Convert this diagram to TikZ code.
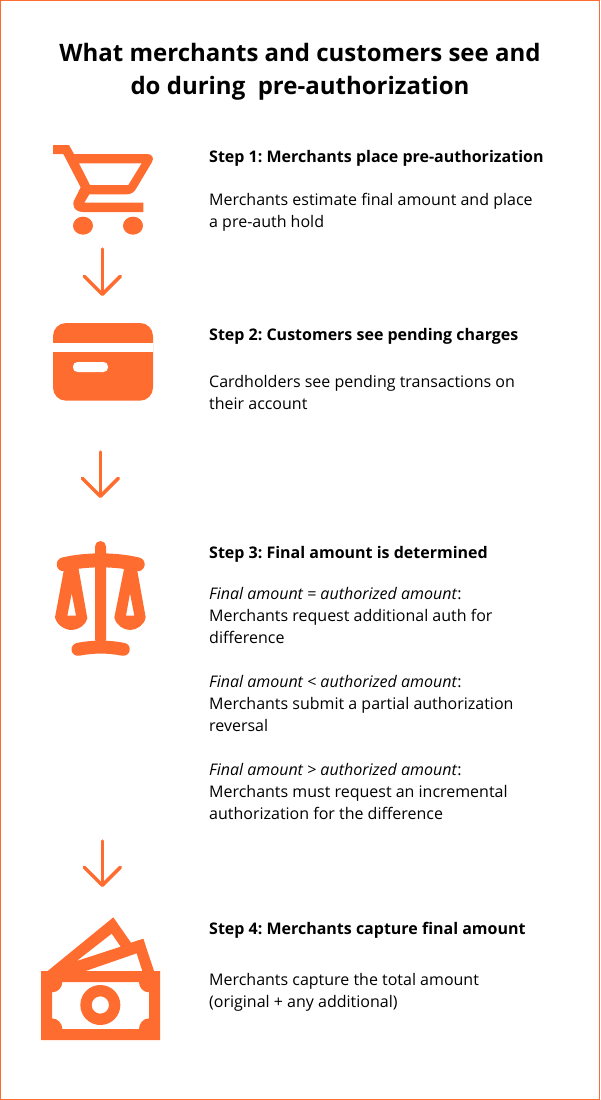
\documentclass[tikz,border=0pt]{standalone}
\usepackage{fontspec}
\setmainfont{Open Sans}
\usetikzlibrary{arrows.meta}
\definecolor{brand}{HTML}{FF6C2F}
\tikzset{
  titletext/.style={anchor=north,align=center,inner sep=0pt,font=\frenchspacing\fontsize{24}{33}\selectfont\bfseries,text=black},
  headtext/.style={anchor=north west,align=left,inner sep=0pt,font=\frenchspacing\fontsize{16}{22}\selectfont\bfseries,text=black},
  bodytext/.style={anchor=north west,align=left,inner sep=0pt,font=\frenchspacing\fontsize{16}{22}\selectfont,text=black},
  flowarrow/.style={draw=brand,line width=3.4pt,line cap=round,-{Straight Barb[length=18pt,width=36pt,round,line width=3.4pt]}},
  icon/.style={fill=brand,draw=none,even odd rule},
  iconcut/.style={fill=white,draw=none},
  zoomed/.style={x=0.33333pt,y=-0.33333pt}
}
\begin{document}
\begin{tikzpicture}[x=1pt,y=-1pt]
\useasboundingbox (0,0) rectangle (600,1100);
\draw[brand,line width=1pt] (0.5,0.5) rectangle (599.5,1099.5);

\node[titletext] (title) at (300,43) {What merchants and customers see and\\do during\ \ pre-authorization};

\node[headtext] (h1) at (209,150) {Step 1: Merchants place pre-authorization};
\node[bodytext] (b1) at (209,193) {Merchants estimate final amount and place\\a pre-auth hold};
\node[headtext] (h2) at (209,328) {Step 2: Customers see pending charges};
\node[bodytext] (b2) at (209,375) {Cardholders see pending transactions on\\their account};
\node[headtext] (h3) at (209,546) {Step 3: Final amount is determined};
\node[bodytext] (b3a) at (209,587) {\textit{Final amount = authorized amount}:\\Merchants request additional auth for\\difference};
\node[bodytext] (b3b) at (209,675) {\textit{Final amount < authorized amount}:\\Merchants submit a partial authorization\\reversal};
\node[bodytext] (b3c) at (209,763) {\textit{Final amount > authorized amount}:\\Merchants must request an incremental\\authorization for the difference};
\node[headtext] (h4) at (209,922) {Step 4: Merchants capture final amount};
\node[bodytext] (b4) at (209,973) {Merchants capture the total amount\\(original + any additional)};

% arrows
\coordinate (a1s) at (102.3,249);
\coordinate (a1e) at (102.3,296);
\coordinate (a2s) at (100.3,452);
\coordinate (a2e) at (100.3,498);
\coordinate (a3s) at (102.3,841);
\coordinate (a3e) at (102.3,887);
\draw[flowarrow] (a1s) -- (a1e);
\draw[flowarrow] (a2s) -- (a2e);
\draw[flowarrow] (a3s) -- (a3e);

% cart
\begin{scope}[shift={(30,130)},zoomed]
\fill[icon] (69,45) -- (117,45) -- (132,72) -- (352,72) .. controls (366,72) and (373,84) .. (366,96)
 -- (322,170) .. controls (314,186) and (304,193) .. (290,193) -- (178,193) -- (163,218) -- (340,218) -- (340,246) -- (160,246)
 .. controls (134,246) and (122,226) .. (135,206) -- (152,172) -- (100,72) -- (69,72) -- cycle
 (147,100) -- (335,100) -- (295,165) -- (180,165) -- cycle;
\fill[icon] (159,287) ellipse [x radius=30,y radius=27];
\fill[icon] (309,287) ellipse [x radius=30,y radius=27];
\end{scope}

% card
\begin{scope}[shift={(30,310)},zoomed]
\fill[icon,rounded corners=13pt] (69,39) rectangle (369,272);
\fill[iconcut] (69,98) rectangle (369,126);
\fill[iconcut,rounded corners=4.5pt] (129,156) rectangle (234,186);
\end{scope}

% scales
\begin{scope}[shift={(30,530)},zoomed]
\fill[icon,rounded corners=5.5pt] (195,100) -- (195,33) -- (228,33) -- (228,345) -- (195,345) -- cycle;
\draw[brand,line width=14pt,line cap=round] (101,103) .. controls (170,87) and (254,87) .. (323,103);
\draw[brand,line width=13pt,line cap=round] (144,358) .. controls (190,349) and (235,349) .. (280,358);
\fill[icon] (103,112) -- (75,262) .. controls (80,285) and (105,300) .. (125,300) .. controls (145,300) and (168,285) .. (172,265) -- (145,112) -- cycle
 (125,190) -- (112,257) -- (138,257) -- cycle;
\fill[icon] (283,112) -- (253,262) .. controls (258,285) and (280,300) .. (300,300) .. controls (320,300) and (343,285) .. (347,262) -- (320,112) -- cycle
 (300,190) -- (288,257) -- (313,257) -- cycle;
\end{scope}

% money
\begin{scope}[shift={(30,830)},zoomed]
\fill[icon] (53,423) -- (250,262) -- (303,338) -- (340,326) -- (372,423) -- cycle
 (245,311) -- (272,350) -- (140,393) -- cycle
 (320,370) -- (337,423) -- (167,423) -- cycle;
\fill[icon] (33,423) rectangle (390,630)
 (97,456) -- (327,456) .. controls (327,473) and (340,487) .. (357,487) -- (357,565) .. controls (340,565) and (327,580) .. (327,597)
 -- (97,597) .. controls (97,580) and (83,565) .. (66,565) -- (66,487) .. controls (83,487) and (97,473) .. (97,456) -- cycle;
\fill[icon] (211,525) circle [radius=60] (211,525) circle [radius=26];
\end{scope}
\end{tikzpicture}
\end{document}
